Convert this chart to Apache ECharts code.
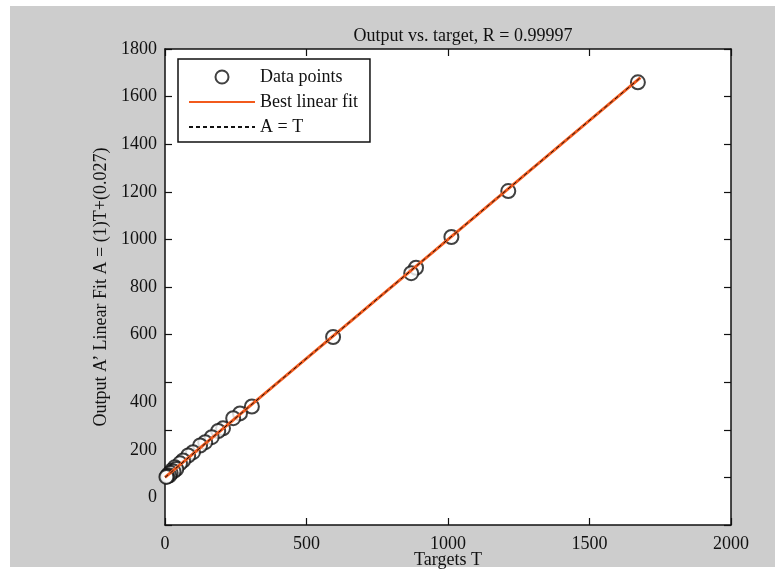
<!DOCTYPE html>
<html>
<head>
<meta charset="utf-8">
<script src="https://cdn.jsdelivr.net/npm/echarts@6/dist/echarts.min.js"></script>
<style>
  html, body { margin: 0; padding: 0; background: #fff; }
  #bg { position: absolute; left: 10px; top: 6px; width: 765px; height: 561px; background: #cdcdcd; }
  #chart { position: absolute; left: 0; top: 0; width: 783px; height: 571px; }
</style>
</head>
<body>
<div id="bg"></div>
<div id="chart"></div>
<script>
// targets T and network outputs A
const targets = [1671, 1213, 1012, 887, 870, 594, 307, 265, 241, 205, 188, 165, 142, 124, 99, 82, 64, 53, 35, 24, 12, 40, 30, 20, 15, 8, 5];
const outputs = [1660, 1203, 1010, 881, 858, 590, 298, 269, 249, 206, 195, 169, 148, 134, 106, 92, 71, 59, 43, 29, 13, 35, 25, 18, 8, 5, 2];

// fit A = (1)T + (0.027)
const fitSlope = 1;
const fitIntercept = 0.027;
const lineRange = [0, 1680];

const xTicks = [0, 500, 1000, 1500, 2000];
const yMin = -200, yMax = 1800, yStep = 200;

const titleText = "Output vs. target, R = 0.99997";
const xName = "Targets T";
const yName = "Output A\u2019 Linear Fit A = (1)T+(0.027)";

const points = targets.map((t, i) => [t, outputs[i]]);
const fitLine = lineRange.map((t) => [t, fitSlope * t + fitIntercept]);
const identLine = lineRange.map((t) => [t, t]);

const font = "Liberation Serif";
const ink = "#111";
const chart = echarts.init(document.getElementById("chart"));

const axisCommon = {
  axisLine: { show: true, onZero: false, lineStyle: { color: ink, width: 1.5 } },
  axisTick: { show: true, inside: true, length: 7, lineStyle: { color: ink, width: 1.2 } },
  splitLine: { show: false },
};

chart.setOption({
  animation: false,
  textStyle: { fontFamily: font },
  title: {
    text: titleText,
    left: 458,
    top: 22,
    textAlign: "center",
    textStyle: { fontFamily: font, fontSize: 18, fontWeight: "normal", color: ink },
  },
  legend: {
    orient: "vertical",
    left: 178,
    top: 59,
    padding: [9, 12, 6, 10],
    itemGap: 7,
    itemWidth: 66,
    itemHeight: 13,
    borderColor: ink,
    borderWidth: 1.5,
    backgroundColor: "#fff",
    textStyle: { fontFamily: font, fontSize: 18, color: ink },
    data: [
      { name: "Data points" },
      { name: "Best linear fit", itemStyle: { opacity: 0 } },
      { name: "A = T", itemStyle: { opacity: 0 } },
    ],
  },
  grid: {
    left: 165, right: 52, top: 49, bottom: 46,
    outerBoundsMode: "none",
    show: true, backgroundColor: "#fff", borderWidth: 0,
  },
  xAxis: [
    {
      ...axisCommon,
      type: "value",
      min: xTicks[0],
      max: xTicks[xTicks.length - 1],
      interval: 500,
      name: xName,
      nameLocation: "middle",
      nameGap: 26,
      nameMoveOverlap: false,
      nameTextStyle: { fontFamily: font, fontSize: 18, color: ink },
      axisLabel: { fontFamily: font, fontSize: 18, color: ink, margin: 10, formatter: (v) => String(v) },
    },
    {
      ...axisCommon,
      type: "value",
      position: "top",
      min: xTicks[0],
      max: xTicks[xTicks.length - 1],
      interval: 500,
      axisLabel: { show: false },
    },
  ],
  yAxis: [
    {
      ...axisCommon,
      type: "value",
      min: yMin,
      max: yMax,
      interval: yStep,
      name: yName,
      nameLocation: "middle",
      nameGap: 47,
      nameTextStyle: { fontFamily: font, fontSize: 18, color: ink },
      axisLabel: {
        fontFamily: font,
        fontSize: 18,
        color: ink,
        margin: 8,
        formatter: (v) => (v < 0 ? "" : v <= 400 ? "{d|" + v + "}" : String(v)),
        rich: { d: { fontFamily: font, fontSize: 18, color: ink, padding: [40, 0, 0, 0] } },
      },
    },
    {
      ...axisCommon,
      type: "value",
      position: "right",
      min: yMin,
      max: yMax,
      interval: yStep,
      axisLabel: { show: false },
    },
  ],
  series: [
    {
      name: "Data points",
      type: "scatter",
      data: points,
      symbol: "emptyCircle",
      symbolSize: 14,
      itemStyle: { color: ink, borderColor: ink, borderWidth: 1.5 },
      z: 1,
    },
    {
      name: "Best linear fit",
      type: "line",
      data: fitLine,
      symbol: "none",
      lineStyle: { color: "#f25a1c", width: 3 },
      itemStyle: { color: "#f25a1c" },
      z: 2,
    },
    {
      name: "A = T",
      type: "line",
      data: identLine,
      symbol: "none",
      lineStyle: { color: ink, width: 1, type: [4, 3] },
      itemStyle: { color: ink },
      z: 3,
    },
  ],
});
</script>
</body>
</html>
